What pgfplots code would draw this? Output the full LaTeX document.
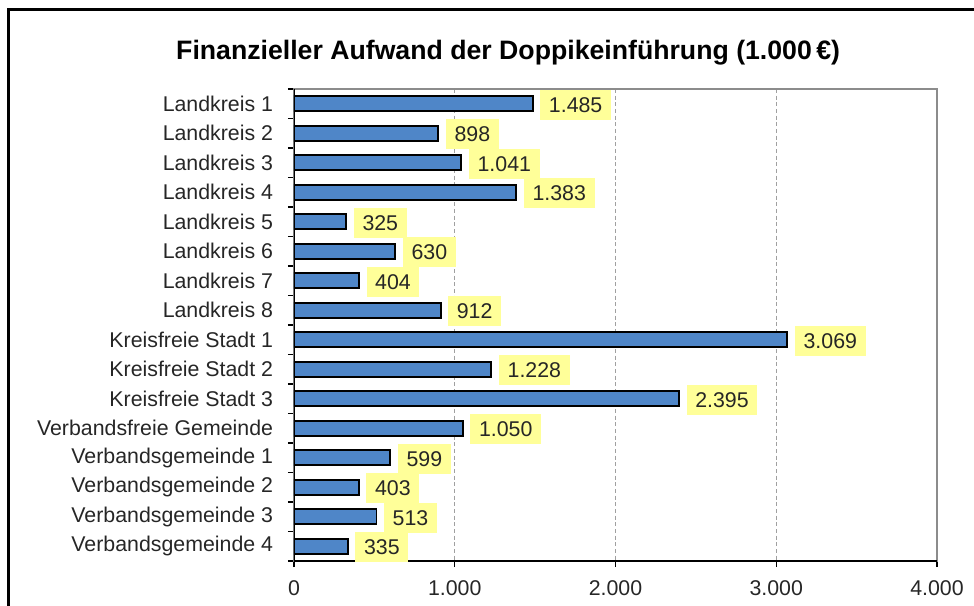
\documentclass[border=0pt]{standalone}
\usepackage{fontspec}
\setmainfont{Liberation Sans}
\usepackage{pgfplots}
\pgfplotsset{compat=1.18}

\definecolor{barblue}{RGB}{79,134,200}
\definecolor{lblyellow}{RGB}{255,255,153}
\definecolor{framegray}{RGB}{140,140,140}
\definecolor{gridgray}{RGB}{160,160,160}

% 1px = 0.75pt
\pgfplotstableread{
y x label
0 1485 1.485
1 898 898
2 1041 1.041
3 1383 1.383
4 325 325
5 630 630
6 404 404
7 912 912
8 3069 3.069
9 1228 1.228
10 2395 2.395
11 1050 1.050
12 599 599
13 403 403
14 513 513
15 335 335
}\kosten

\begin{document}
\begin{tikzpicture}
\useasboundingbox (-220.5pt,-33.75pt) rectangle (510pt,420.75pt);
\begin{axis}[
    at={(0,0)}, anchor=south west,
    scale only axis,
    width=482.25pt, height=354pt,
    xbar, bar width=11.25pt,
    xmin=0, xmax=4000,
    ymin=-0.5, ymax=15.5,
    y dir=reverse,
    xtick={0,1000,2000,3000,4000},
    xticklabels={0,1.000,2.000,3.000,4.000},
    ytick={0,...,15},
    yticklabels={Landkreis 1,Landkreis 2,Landkreis 3,Landkreis 4,Landkreis 5,Landkreis 6,Landkreis 7,Landkreis 8,Kreisfreie Stadt 1,Kreisfreie Stadt 2,Kreisfreie Stadt 3,Verbandsfreie Gemeinde,Verbandsgemeinde 1,Verbandsgemeinde 2,Verbandsgemeinde 3,Verbandsgemeinde 4},
    minor ytick={-0.5,0.5,...,15.5},
    every major y tick/.style={draw=none},
    every minor y tick/.style={black, line width=0.9pt},
    xtick style={black, line width=0.9pt},
    tick align=outside,
    major tick length=4.5pt,
    minor tick length=4.5pt,
    xtick pos=left, ytick pos=left,
    xmajorgrids,
    major x grid style={gridgray, dash pattern=on 3pt off 2pt, line width=0.7pt},
    axis line style={framegray, line width=1.5pt},
    tick label style={font=\fontsize{16pt}{19pt}\selectfont, text=black!85},
    yticklabel style={inner sep=0pt, xshift=-11pt},
    xticklabel style={inner sep=0pt, yshift=-10pt},
    title={Finanzieller Aufwand der Doppikeinführung (1.000\,€)},
    title style={at={(0.333,1.06)}, anchor=center, font=\bfseries\fontsize{20pt}{23pt}\selectfont},
    point meta=explicit symbolic,
    nodes near coords,
    nodes near coords style={anchor=west, xshift=5pt, yshift=-0.8pt, fill=lblyellow,
        inner xsep=6.5pt, minimum height=22.5pt, text=black!85,
        font=\fontsize{16pt}{19pt}\selectfont},
]
\addplot[fill=barblue, draw=black, line width=1.4pt]
    table[x=x, y=y, meta=label] {\kosten};
\draw[black, line width=1.2pt] (rel axis cs:0,1) -- (rel axis cs:0,0) -- (rel axis cs:1,0);
\end{axis}
\draw[black, line width=1.9pt] (-214.1pt,-80pt) |- (600pt,413.5pt);
\end{tikzpicture}
\end{document}
